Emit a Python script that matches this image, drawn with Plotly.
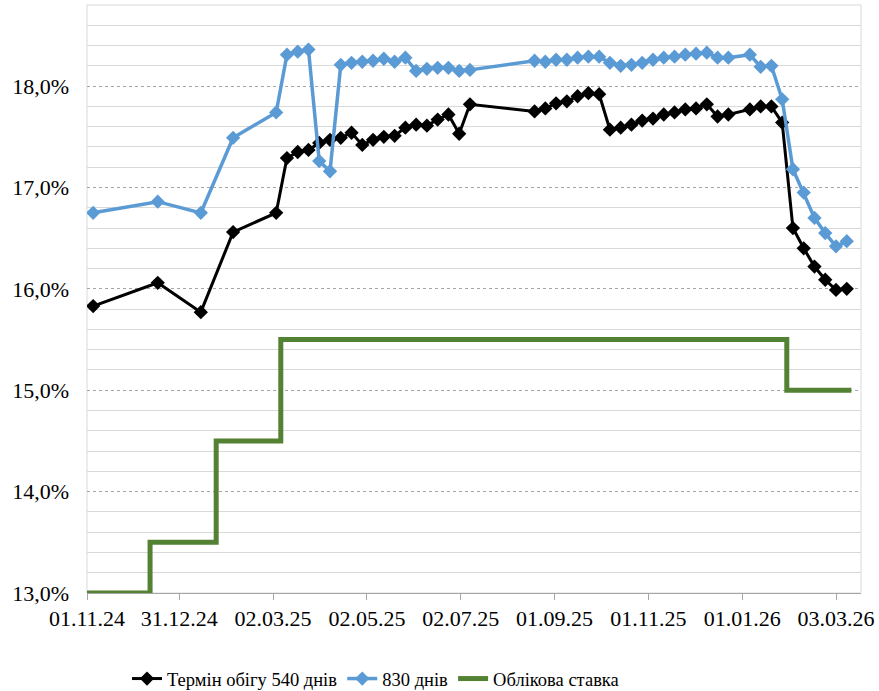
import plotly.graph_objects as go

# ---- data ----
dates_early = ["2024-11-05", "2024-12-17", "2025-01-14", "2025-02-04", "2025-03-04"]
weekly_a = ["2025-03-11", "2025-03-18", "2025-03-25", "2025-04-01", "2025-04-08", "2025-04-15",
            "2025-04-22", "2025-04-29", "2025-05-06", "2025-05-13", "2025-05-20", "2025-05-27",
            "2025-06-03", "2025-06-10", "2025-06-17", "2025-06-24", "2025-07-01", "2025-07-08"]
weekly_b = ["2025-08-19", "2025-08-26", "2025-09-02", "2025-09-09", "2025-09-16", "2025-09-23",
            "2025-09-30", "2025-10-07", "2025-10-14", "2025-10-21", "2025-10-28", "2025-11-04",
            "2025-11-11", "2025-11-18", "2025-11-25", "2025-12-02", "2025-12-09", "2025-12-16",
            "2025-12-23"]
weekly_c = ["2026-01-06", "2026-01-13", "2026-01-20", "2026-01-27", "2026-02-03", "2026-02-10",
            "2026-02-17", "2026-02-24", "2026-03-03", "2026-03-10"]
auction_dates = dates_early + weekly_a + weekly_b + weekly_c

yield_540 = [15.83, 16.06, 15.77, 16.56, 16.75,
             17.29, 17.35, 17.37, 17.44, 17.47, 17.49, 17.54, 17.42, 17.47, 17.50, 17.51, 17.59,
             17.62, 17.61, 17.67, 17.72, 17.53, 17.82,
             17.75, 17.78, 17.83, 17.85, 17.90, 17.93, 17.92, 17.57, 17.59, 17.62, 17.66, 17.68,
             17.72, 17.74, 17.77, 17.78, 17.82, 17.70, 17.72,
             17.77, 17.80, 17.80, 17.64, 16.60, 16.40, 16.22, 16.09, 15.99, 16.00]

yield_830 = [16.75, 16.86, 16.75, 17.49, 17.74,
             18.31, 18.34, 18.36, 17.26, 17.16, 18.21, 18.23, 18.24, 18.25, 18.27, 18.24, 18.28,
             18.15, 18.17, 18.18, 18.18, 18.15, 18.16,
             18.25, 18.24, 18.26, 18.26, 18.28, 18.29, 18.29, 18.23, 18.20, 18.21, 18.23, 18.26,
             18.28, 18.29, 18.31, 18.32, 18.33, 18.28, 18.28,
             18.31, 18.19, 18.20, 17.87, 17.18, 16.95, 16.70, 16.55, 16.42, 16.47]

rate_dates = ["2024-11-01", "2024-12-12", "2025-01-24", "2025-03-07", "2026-01-30", "2026-03-13"]
rate_vals = [13.0, 13.5, 14.5, 15.5, 15.0, 15.0]

tick_dates = ["2024-11-01", "2024-12-31", "2025-03-02", "2025-05-02", "2025-07-02",
              "2025-09-01", "2025-11-01", "2026-01-01", "2026-03-03"]
tick_labels = ["01.11.24", "31.12.24", "02.03.25", "02.05.25", "02.07.25",
               "01.09.25", "01.11.25", "01.01.26", "03.03.26"]

names = ["Термін обігу 540 днів", "830 днів", "Облікова ставка"]

FONT = "Times New Roman, Liberation Serif, serif"

fig = go.Figure()
fig.add_trace(go.Scatter(x=auction_dates, y=yield_540, name=names[0], mode="lines+markers",
                         line=dict(color="#000000", width=3),
                         marker=dict(symbol="diamond", size=11, color="#000000")))
fig.add_trace(go.Scatter(x=auction_dates, y=yield_830, name=names[1], mode="lines+markers",
                         line=dict(color="#5B9BD5", width=3.5),
                         marker=dict(symbol="diamond", size=11, color="#5B9BD5")))
fig.add_trace(go.Scatter(x=rate_dates, y=rate_vals, name=names[2], mode="lines",
                         line=dict(color="#548235", width=5, shape="hv")))

fig.update_layout(
    width=879, height=691,
    margin=dict(l=87, r=18, t=5, b=98, autoexpand=False),
    paper_bgcolor="white", plot_bgcolor="white",
    separators=", ",
    font=dict(family=FONT, size=22, color="#000000"),
    showlegend=True,
    legend=dict(orientation="h", x=0.0517, xanchor="left", y=-0.1463, yanchor="middle",
                font=dict(family=FONT, size=18.5, color="#000000"),
                itemwidth=30, tracegroupgap=0),
    shapes=[dict(type="rect", xref="paper", yref="paper", x0=0, x1=1, y0=0, y1=1,
                 line=dict(color="#D9D9D9", width=1), layer="below")],
)
fig.update_xaxes(type="date", range=["2024-11-01", "2026-03-19 06:00"],
                 tickmode="array", tickvals=tick_dates, ticktext=tick_labels,
                 ticks="outside", ticklen=6, tickcolor="#A6A6A6", tickwidth=1,
                 showline=True, linecolor="#A6A6A6", linewidth=1,
                 showgrid=False, zeroline=False, automargin=False,
                 tickfont=dict(family=FONT, size=22, color="#000000"))
fig.update_yaxes(range=[13, 18.8], tickmode="linear", tick0=13, dtick=1,
                 tickformat=".1f", ticksuffix="%",
                 showgrid=True, gridcolor="#A6A6A6", griddash="dot", gridwidth=1,
                 minor=dict(dtick=0.2, tick0=13, showgrid=True, gridcolor="#D9D9D9",
                            gridwidth=1, griddash="solid"),
                 showline=False, zeroline=False, ticks="", ticklabelstandoff=17, automargin=False,
                 tickfont=dict(family=FONT, size=22, color="#000000"))

fig.write_html("out.html", config={"displayModeBar": False},
               post_script="document.body.style.margin='0';document.body.style.padding='0';")
